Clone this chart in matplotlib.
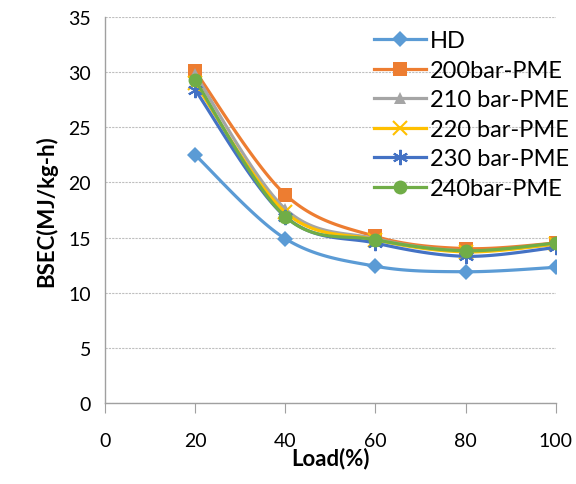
import numpy as np
import matplotlib
matplotlib.use("Agg")
import matplotlib.pyplot as plt
from matplotlib.lines import Line2D

plt.rcParams['font.family'] = ['Lato', 'DejaVu Sans']

# Data
load = [20, 40, 60, 80, 100]
hd = [22.5, 14.9, 12.4, 11.9, 12.3]
pme_200 = [30.1, 18.9, 15.1, 14.0, 14.5]
pme_210 = [29.8, 17.6, 14.9, 13.8, 14.4]
pme_220 = [29.0, 17.3, 14.8, 13.7, 14.4]
pme_230 = [28.4, 16.9, 14.5, 13.3, 14.1]
pme_240 = [29.3, 16.9, 14.8, 13.8, 14.5]

labels = ["HD", "200bar-PME", "210 bar-PME", "220 bar-PME", "230 bar-PME", "240bar-PME"]
colors = ["#5B9BD5", "#ED7D31", "#A5A5A5", "#FFC000", "#4472C4", "#70AD47"]
markers = ["D", "s", "^", "x", (6, 2, 0), "o"]
msizes = [8, 10, 9, 10, 11, 10]


def smooth(x, y, n=30):
    # Excel-style smoothed line: cubic Bezier through points (Catmull-Rom)
    x = np.asarray(x, float)
    y = np.asarray(y, float)
    px = np.concatenate([[x[0]], x, [x[-1]]])
    py = np.concatenate([[y[0]], y, [y[-1]]])
    xs, ys = [], []
    t = np.linspace(0, 1, n)
    for i in range(1, len(px) - 2):
        p0 = np.array([px[i], py[i]])
        p3 = np.array([px[i + 1], py[i + 1]])
        c1 = p0 + (np.array([px[i + 1], py[i + 1]]) - np.array([px[i - 1], py[i - 1]])) / 6
        c2 = p3 - (np.array([px[i + 2], py[i + 2]]) - np.array([px[i], py[i]])) / 6
        b = ((1 - t) ** 3)[:, None] * p0 + (3 * (1 - t) ** 2 * t)[:, None] * c1 \
            + (3 * (1 - t) * t ** 2)[:, None] * c2 + (t ** 3)[:, None] * p3
        xs.extend(b[:, 0])
        ys.extend(b[:, 1])
    return xs, ys


fig = plt.figure(figsize=(5.76, 4.85), dpi=100)
ax = fig.add_axes([0.182, 0.167, 0.783, 0.796])

series = [hd, pme_200, pme_210, pme_220, pme_230, pme_240]
handles = []
for vals, lab, c, m, ms in zip(series, labels, colors, markers, msizes):
    sx, sy = smooth(load, vals)
    ax.plot(sx, sy, color=c, lw=2.3, solid_capstyle="round")
    mew = 1.5 if m in ("x", (6, 2, 0)) else 0
    ax.plot(load, vals, linestyle="none", marker=m, markersize=ms,
            color=c, markeredgecolor=c, markeredgewidth=mew)
    handles.append(Line2D([], [], color=c, lw=2.3, marker=m, markersize=ms,
                          markeredgecolor=c, markeredgewidth=mew))

ax.set_xlim(0, 100)
ax.set_ylim(0, 35)
ax.set_xticks([0, 20, 40, 60, 80, 100])
ax.set_yticks(range(0, 36, 5))
ax.yaxis.grid(True, color="#BFBFBF", linestyle=(0, (2, 1)), lw=0.8)
ax.set_axisbelow(True)

for s in ["top", "right"]:
    ax.spines[s].set_visible(False)
for s in ["left", "bottom"]:
    ax.spines[s].set_color("#A0A0A0")
    ax.spines[s].set_linewidth(1.0)

ax.tick_params(axis="x", direction="out", length=7, color="#A0A0A0",
               labelsize=14, pad=14)
ax.tick_params(axis="y", length=0, labelsize=14, pad=10)

ax.set_xlabel("Load(%)", fontsize=16, fontweight="bold", labelpad=-2)
ax.set_ylabel("BSEC(MJ/kg-h)", fontsize=16, fontweight="bold", labelpad=8)

ax.legend(handles, labels, loc="upper left", bbox_to_anchor=(0.597, 0.965),
          frameon=False, fontsize=17, handlelength=2.2, handletextpad=0.15,
          labelspacing=0.36, borderaxespad=0, borderpad=0)

fig.savefig("out.png", dpi=100)
